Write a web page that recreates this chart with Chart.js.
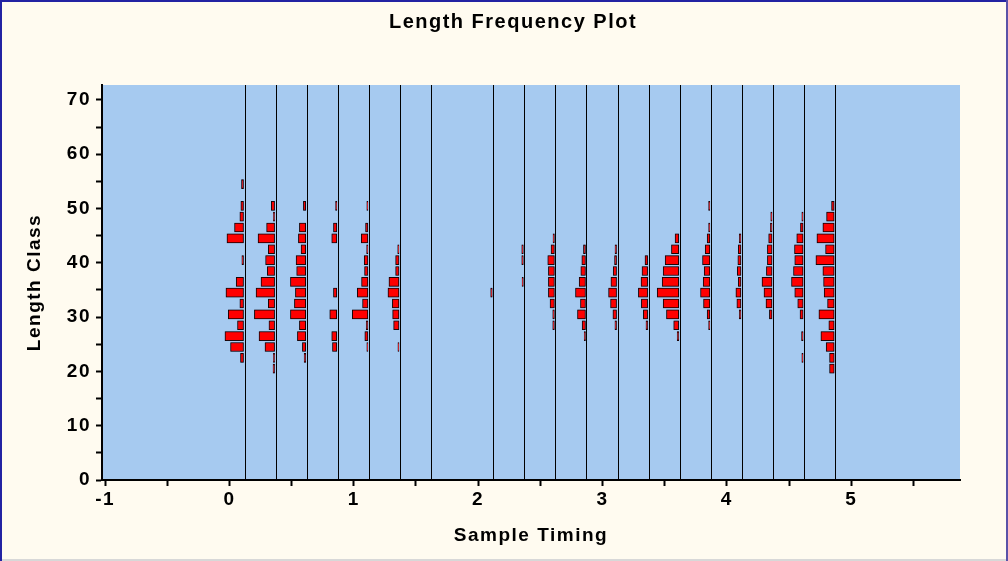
<!DOCTYPE html>
<html>
<head>
<meta charset="utf-8">
<title>Length Frequency Plot</title>
<script src="https://cdn.jsdelivr.net/npm/chart.js@4/dist/chart.umd.min.js"></script>
<style>
  html, body { margin: 0; padding: 0; background: #fffbf0; }
  #lfChart { display: block; background: #fffbf0; }
</style>
</head>
<body>
<canvas id="lfChart" width="1008" height="561"></canvas>
<script>
// length classes (mid points) on the y axis
const lengthClasses = [20.5, 22.5, 24.5, 26.5, 28.5, 30.5, 32.5, 34.5, 36.5,
                       38.5, 40.5, 42.5, 44.5, 46.5, 48.5, 50.5, 52.5, 54.5];

// sample timing, one vertical line per sample
const sampleTimes = [0.125, 0.375, 0.625, 0.875, 1.125, 1.375, 1.625,
                     2.125, 2.375, 2.625, 2.875, 3.125, 3.375, 3.625,
                     3.875, 4.125, 4.375, 4.625, 4.875];

// frequency (%) per length class, one array per sample
const sample01 = [0, 3, 13, 18.6, 6, 15.3, 3.6, 17.6, 7.3, 0, 1.6, 0, 16.6, 9, 3.6, 2.6, 0, 2];
const sample02 = [1.5, 1.2, 9.6, 15.6, 5.6, 20.3, 6.3, 18.6, 13.6, 7.3, 9, 6.3, 16.6, 8, 1.2, 3.3, 0, 0];
const sample03 = [0, 1.5, 3.3, 8.3, 6.3, 15.3, 11.3, 10.3, 15.3, 9, 9.6, 4.6, 7.3, 6.3, 0, 2.3, 0, 0];
const sample04 = [0, 0, 4.3, 5, 0, 7, 0, 3.3, 0, 0, 0, 0, 5, 3.3, 0, 1.2, 0, 0];
const sample05 = [0, 0, 1, 3, 1.6, 15.6, 5.3, 10.6, 6.3, 3.3, 3.6, 1.2, 6.6, 2.3, 0, 1, 0, 0];
const sample06 = [0, 0, 1, 0, 5.3, 6.3, 6.6, 11, 10, 3.3, 3.3, 1.2, 0, 0, 0, 0, 0, 0];
const sample07 = [0, 0, 0, 0, 0, 0, 0, 0, 0, 0, 0, 0, 0, 0, 0, 0, 0, 0];
const sample08 = [0, 0, 0, 0, 0, 0, 0, 1.5, 0, 0, 0, 0, 0, 0, 0, 0, 0, 0];
const sample09 = [0, 0, 0, 0, 0, 0, 0, 0, 1.2, 0, 1.5, 1.5, 0, 0, 0, 0, 0, 0];
const sample10 = [0, 0, 0, 0, 1.6, 1.6, 4.3, 6, 6, 6, 6.6, 3.3, 1.3, 0, 0, 0, 0, 0];
const sample11 = [0, 0, 0, 1.2, 3.3, 8, 5, 10, 6.3, 4.6, 3.6, 2, 0, 0, 0, 0, 0, 0];
const sample12 = [0, 0, 0, 0, 1.6, 3.6, 6, 8, 5.6, 3.3, 2, 1.5, 0, 0, 0, 0, 0, 0];
const sample13 = [0, 0, 0, 0, 1.6, 4.3, 6.3, 9.3, 6.6, 5.6, 2.6, 0, 0, 0, 0, 0, 0, 0];
const sample14 = [0, 0, 0, 1.5, 5, 12.3, 15.6, 21.6, 16.6, 15.6, 13.6, 7.3, 3.6, 0, 0, 0, 0, 0];
const sample15 = [0, 0, 0, 0, 1.2, 2.6, 6.3, 9.3, 6.6, 5.6, 7.3, 4.6, 2.6, 1.2, 0, 1.2, 0, 0];
const sample16 = [0, 0, 0, 0, 0, 1.6, 4, 5, 2.6, 3.6, 3, 2.6, 1.6, 0, 0, 0, 0, 0];
const sample17 = [0, 0, 0, 0, 0, 2.6, 6, 8, 10, 5.6, 4.6, 4.6, 3.3, 1.6, 1.2, 0, 0, 0];
const sample18 = [0, 1.2, 0, 1.5, 0, 3, 5.3, 8.3, 11.6, 9.6, 8.3, 8.6, 6.3, 2.6, 1.2, 0, 0, 0];
const sample19 = [4.6, 4.6, 8, 13.3, 5.3, 15.3, 6.6, 10, 10.6, 11.3, 18.3, 8.6, 17.3, 11.3, 7.6, 2.6, 0, 0];

const samples = [sample01, sample02, sample03, sample04, sample05, sample06, sample07,
                 sample08, sample09, sample10, sample11, sample12, sample13, sample14,
                 sample15, sample16, sample17, sample18, sample19];

const xMin = -1.025, xMax = 5.875;
const yMin = 0, yMax = 72.75;
const pctToTime = 0.008;   // bar length in timing units per 1 % frequency
const barGap = 0.012;      // bars stop just short of the sample line

// floating horizontal bars, growing to the left of each sample line
const bars = [];
sampleTimes.forEach((t, i) => {
    samples[i].forEach((f, j) => {
        if (f > 0) {
            bars.push({ y: lengthClasses[j], x: [t - barGap - f * pctToTime, t - barGap] });
        }
    });
});

const FONT = "'Liberation Sans', Arial, sans-serif";
const tickFont = { family: FONT, size: 19, weight: 'bold' };
const axisTitleFont = { family: FONT, size: 19, weight: 'bold' };

const lookPlugin = {
    id: 'lookPlugin',
    beforeUpdate(chart) {
        chart.ctx.letterSpacing = '1.5px';
    },
    beforeDraw(chart) {
        const ctx = chart.ctx, a = chart.chartArea;
        ctx.letterSpacing = '1.5px';
        ctx.save();
        ctx.fillStyle = '#a6caf0';
        ctx.fillRect(a.left, a.top, a.right - a.left, a.bottom - a.top);
        ctx.restore();
    },
    beforeDatasetDraw(chart) {
        chart.ctx.shadowColor = 'rgba(50, 70, 110, 0.55)';
        chart.ctx.shadowBlur = 1.5;
    },
    afterDatasetDraw(chart) {
        chart.ctx.shadowColor = 'rgba(0,0,0,0)';
        chart.ctx.shadowBlur = 0;
    },
    afterDraw(chart) {
        const ctx = chart.ctx, w = chart.width, h = chart.height;
        ctx.save();
        ctx.lineWidth = 2;
        ctx.strokeStyle = '#d8d8d8';
        ctx.beginPath(); ctx.moveTo(0, h - 1); ctx.lineTo(w, h - 1); ctx.stroke();
        ctx.strokeStyle = '#2323a3';
        ctx.beginPath(); ctx.moveTo(1, h); ctx.lineTo(1, 1); ctx.lineTo(w, 1); ctx.stroke();
        ctx.strokeStyle = '#5a52a8';
        ctx.beginPath(); ctx.moveTo(w - 1, 0); ctx.lineTo(w - 1, h); ctx.stroke();
        ctx.restore();
    }
};

const lfChart = new Chart(document.getElementById('lfChart'), {
    type: 'bar',
    data: {
        datasets: [{
            label: 'Frequency',
            data: bars,
            xAxisID: 'x',
            yAxisID: 'y',
            backgroundColor: '#ff0000',
            borderColor: '#1a0000',
            borderWidth: 1,
            borderSkipped: false,
            barThickness: 9
        }]
    },
    options: {
        indexAxis: 'y',
        responsive: false,
        devicePixelRatio: 1,
        animation: false,
        events: [],
        layout: { padding: { left: 66, right: 48, top: 0, bottom: 0 } },
        plugins: {
            legend: { display: false },
            tooltip: { enabled: false },
            title: {
                display: true,
                text: 'Length Frequency Plot',
                color: '#000',
                font: { family: FONT, size: 20, weight: 'bold' },
                padding: { top: 10, bottom: 51 }
            }
        },
        scales: {
            x: {
                type: 'linear',
                position: 'bottom',
                min: xMin,
                max: xMax,
                offset: false,
                afterFit: s => { s.height = 81; },
                ticks: {
                    stepSize: 0.5,
                    includeBounds: false,
                    autoSkip: false,
                    maxRotation: 0,
                    color: '#000',
                    font: tickFont,
                    padding: 2,
                    callback: v => Number.isInteger(v) ? v : ''
                },
                grid: { offset: false, drawOnChartArea: false, tickLength: 6, tickWidth: 2, tickColor: '#000' },
                border: { color: '#000', width: 2 },
                title: {
                    display: true,
                    text: 'Sample Timing',
                    color: '#000',
                    font: axisTitleFont,
                    padding: { top: 0, bottom: 14 }
                }
            },
            x2: {
                type: 'linear',
                axis: 'x',
                position: 'bottom',
                min: xMin,
                max: xMax,
                offset: false,
                afterBuildTicks: s => { s.ticks = sampleTimes.map(v => ({ value: v })); },
                afterFit: s => { s.height = 0; },
                ticks: { display: false },
                grid: { offset: false, color: '#000', lineWidth: 1, drawTicks: false },
                border: { display: false }
            },
            y: {
                type: 'linear',
                min: yMin,
                max: yMax,
                offset: false,
                afterFit: s => { s.width = 36; },
                ticks: {
                    stepSize: 5,
                    includeBounds: false,
                    autoSkip: false,
                    color: '#000',
                    font: tickFont,
                    padding: 5,
                    callback: v => v % 10 === 0 ? v : ''
                },
                grid: { offset: false, drawOnChartArea: false, tickLength: 6, tickWidth: 2, tickColor: '#000' },
                border: { color: '#000', width: 2 },
                title: {
                    display: true,
                    text: 'Length Class',
                    color: '#000',
                    font: axisTitleFont,
                    padding: { top: -43, bottom: 0 }
                }
            }
        }
    },
    plugins: [lookPlugin]
});
</script>
</body>
</html>
